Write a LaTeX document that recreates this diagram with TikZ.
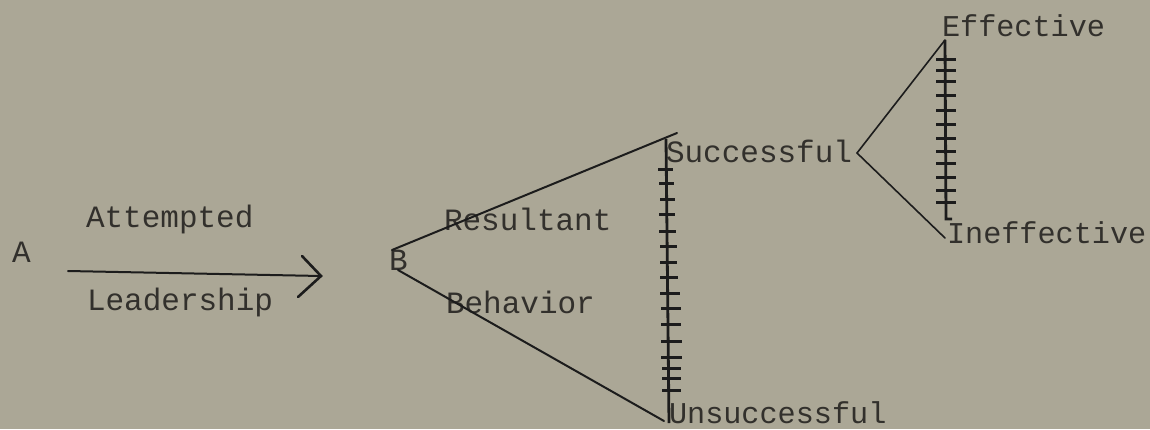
\documentclass[tikz,border=0pt]{standalone}
\usepackage{fontspec}
\setmonofont{Liberation Mono}
\definecolor{paper}{RGB}{171,167,150}
\definecolor{ink}{RGB}{50,48,44}
\definecolor{pen}{RGB}{28,28,28}
\tikzset{
  lbl/.style={anchor=base west, inner sep=0pt, outer sep=0pt, text=ink,
    font=\ttfamily\fontsize{15.5}{18}\selectfont},
  lblsm/.style={lbl, font=\ttfamily\fontsize{15.1}{18}\selectfont},
  stroke/.style={draw=pen, line width=1pt, line cap=round},
  tick/.style={draw=pen, line width=1.5pt},
  spine/.style={draw=pen, line width=1.4pt}
}
\begin{document}
\begin{tikzpicture}[x=0.5pt,y=-0.5pt]
\fill[paper] (0,0) rectangle (1150,429);
\useasboundingbox (0,0) rectangle (1150,429);
% labels
\node[lbl] (A) at (12,262) {A};
\node[lbl] (att) at (86,227) {Attempted};
\node[lbl] (lead) at (87,310) {Leadership};
\node[lbl] (B) at (389,270) {B};
\node[lbl] (res) at (444,230) {Resultant};
\node[lbl] (beh) at (446,313) {Behavior};
\node[lbl] (suc) at (666,162) {Successful};
\node[lblsm] (uns) at (669,423) {Unsuccessful};
\node[lblsm] (eff) at (942,36) {Effective};
\node[lblsm] (ineff) at (947,243) {Ineffective};
% arrow A -> B
\coordinate (arS) at (68,271);
\coordinate (arT) at (321,276);
\draw[stroke] (arS) -- (arT);
\draw[stroke, line width=1.3pt] (302,256) -- (arT) -- (298,297);
% first fork
\coordinate (Bu) at (392,250);
\coordinate (Bl) at (398,270);
\coordinate (sucEnd) at (677,133);
\coordinate (unsEnd) at (664,421);
\draw[stroke] (Bu) -- (sucEnd);
\draw[stroke] (Bl) -- (unsEnd);
% hatched line 1
\coordinate (h1t) at (666,139);
\coordinate (h1b) at (669,423);
\draw[spine] (h1t) -- (h1b);
\foreach \y/\a/\b in {169/658/673,183/659/674,199/660/675,214/659/675,231/659/676,246/660/677,262/660/677,277/660/678,293/660/680,308/661/681,324/661/681,341/661/682,357/661/682,368/662/681,378/662/681,390/662/681}
  \draw[tick] (\a,\y) -- (\b,\y);
% second fork
\coordinate (v2) at (857,153);
\coordinate (effEnd) at (945,40);
\coordinate (inEnd) at (945,238);
\draw[stroke, line width=0.8pt] (v2) -- (effEnd);
\draw[stroke, line width=0.8pt] (v2) -- (inEnd);
% hatched line 2
\coordinate (h2t) at (945,40);
\coordinate (h2b) at (946,219);
\draw[spine] (h2t) -- (h2b) -- (952,219);
\foreach \y in {59,70,81,95,110,124,138,151,163,177,190,202}
  \draw[tick] (936,\y) -- (956,\y);
\end{tikzpicture}
\end{document}
